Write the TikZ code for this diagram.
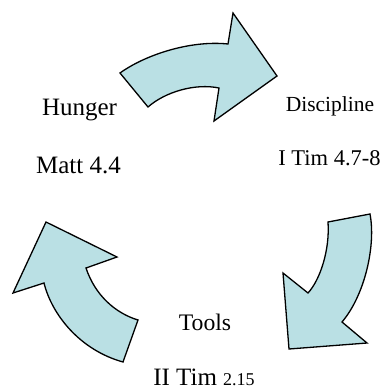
\documentclass[tikz,border=0pt]{standalone}
\usepackage{fontspec}
\setmainfont{Liberation Serif}
\usepackage{tikz}
\usetikzlibrary{positioning}
\definecolor{arrowfill}{RGB}{186,224,228}

\begin{document}
\begin{tikzpicture}[
        x=1pt, y=-1pt,
        bent/.style={draw=black, fill=arrowfill, line width=1.3pt, line join=miter},
        label/.style={inner sep=0pt, anchor=base, text=black},
        big/.style={font=\fontsize{25}{30}\selectfont},
        mid/.style={font=\fontsize{22.5}{27}\selectfont},
        small/.style={font=\fontsize{21.5}{26}\selectfont}
    ]
        \useasboundingbox (0,0) rectangle (383,389);

        % Top arrow
        \draw[bent] (120,73) .. controls (145,55) and (190,40) .. (228,44)
            -- (233,13) -- (277,76) -- (214,121) -- (219,88)
            .. controls (195,83) and (165,92) .. (148,107) -- cycle;

        % Right arrow
        \draw[bent] (370,214) .. controls (376,245) and (365,295) .. (342,322)
            -- (367,343) -- (289,349) -- (283,273) -- (308,293)
            .. controls (320,280) and (330,250) .. (328,222) -- cycle;

        % Left arrow
        \draw[bent] (123,362) .. controls (80,350) and (52,315) .. (44,283)
            -- (13,293) -- (46,222) -- (117,257) -- (86,268)
            .. controls (95,295) and (115,313) .. (138,320) -- cycle;

        % Labels
        \node[label, big] (hunger) at (79.5,115) {Hunger};
        \node[label, big] (matt) at (78.5,173) {Matt 4.4};
        \node[label, small] (discipline) at (330,111) {Discipline};
        \node[label, mid] (itim) at (329.5,165) {I Tim 4.7-8};
        \node[label, font=\fontsize{23.7}{28}\selectfont] (tools) at (205,330) {Tools};
        \node[label, big] (iitim) at (204,385) {II Tim {\fontsize{18}{22}\selectfont 2.15}};

    \end{tikzpicture}
\end{document}
